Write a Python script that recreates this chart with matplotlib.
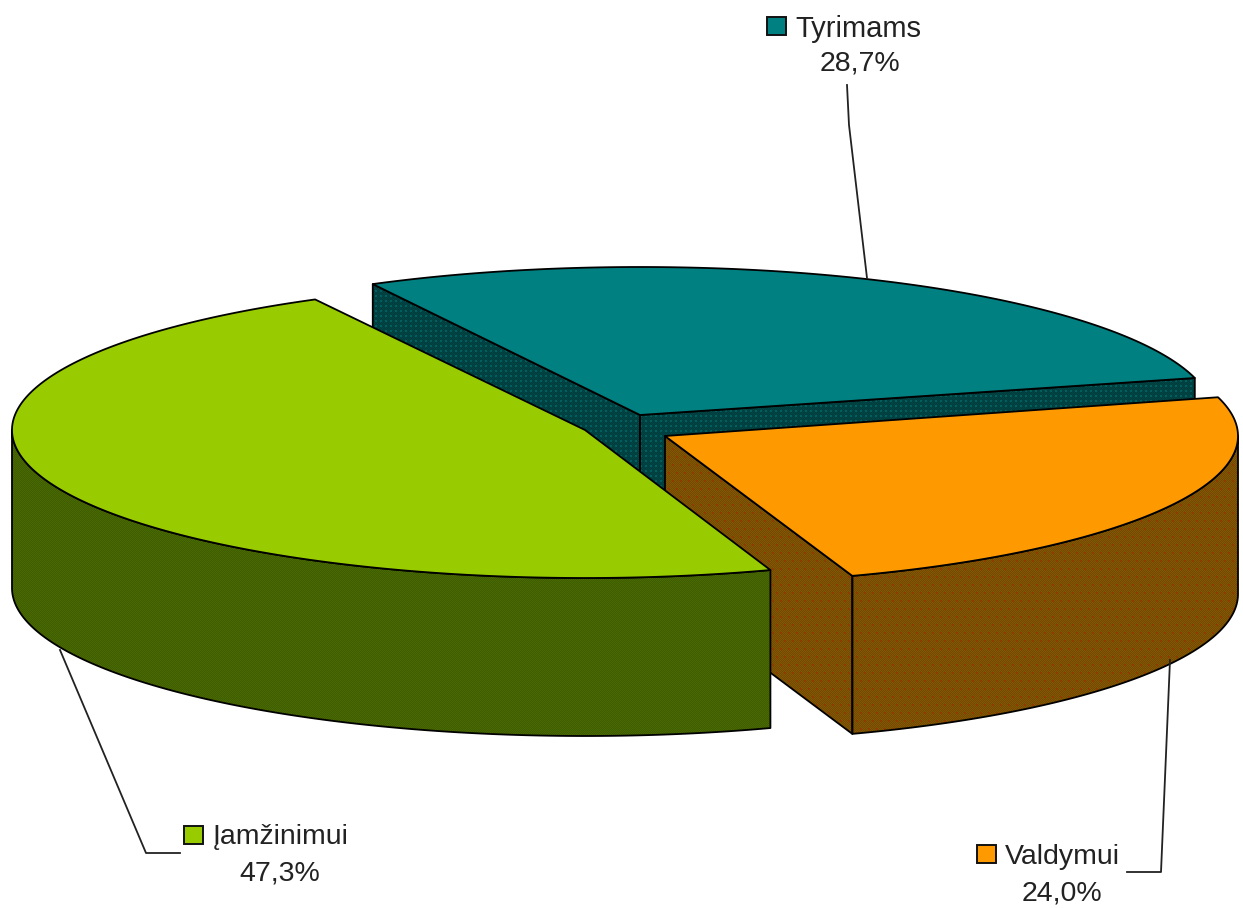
import numpy as np
import matplotlib
matplotlib.use("Agg")
import matplotlib.pyplot as plt
from matplotlib.colors import to_rgb
from matplotlib.patches import Polygon, Rectangle

labels = ["Tyrimams", "Valdymui", "Įamžinimui"]
shares = [28.7, 24.0, 47.3]
pct_labels = ["28,7%", "24,0%", "47,3%"]

top_colors = ["#008080", "#FF9900", "#99CC00"]
W, H = 1243, 908
A, B, DEPTH = 573, 148, 158
START = 117.8  # parametric angle where the first slice begins, going clockwise
centers = {"Tyrimams": (640, 415), "Valdymui": (665, 436), "Įamžinimui": (585, 430)}
# small corrections (degrees) of each slice's start and end for the view's perspective
view_fix = {"Tyrimams": (0, 0), "Valdymui": (0.7, 1.0), "Įamžinimui": (0.8, 0.3)}

plt.rcParams["font.family"] = ["Liberation Sans", "DejaVu Sans"]
fig = plt.figure(figsize=(W / 100, H / 100), dpi=100)
ax = fig.add_axes([0, 0, 1, 1])
ax.set_xlim(0, W)
ax.set_ylim(H, 0)
ax.axis("off")


def texture(base, alt, dot, period, stagger):
    """Dithered fill like the original palette rendering."""
    yy, xx = np.mgrid[0:H, 0:W]
    img = np.zeros((H, W, 3))
    img[:] = to_rgb(base)
    img[(xx + yy) % 2 == 0] = to_rgb(alt)
    if dot:
        shift = (yy // period) % 2 * (period // 2) if stagger else 0
        img[((xx + shift) % period < 2) & (yy % period < 2)] = to_rgb(dot)
    return img


textures = {
    "Tyrimams": texture("#003c3c", "#004646", "#006060", 5, False),
    "Valdymui": texture("#6f4a00", "#865600", "#8f3c00", 8, True),
    "Įamžinimui": texture("#3c5e00", "#4c6800", None, 5, False),
}


def pt(c, t):
    return c[0] + A * np.cos(np.radians(t)), c[1] - B * np.sin(np.radians(t))


def arc(c, t0, t1, n=200):
    ts = np.linspace(t0, t1, n)
    return np.column_stack([c[0] + A * np.cos(np.radians(ts)), c[1] - B * np.sin(np.radians(ts))])


def side(xy, name, z):
    poly = Polygon(xy, closed=True, fc="none", ec="black", lw=1.3, zorder=z + 0.1, joinstyle="round")
    ax.add_patch(poly)
    im = ax.imshow(textures[name], extent=(0, W, H, 0), zorder=z, interpolation="nearest", aspect="auto")
    im.set_clip_path(poly)


def extrude(p):
    return np.vstack([p, (p + np.array([0, DEPTH]))[::-1]])


# slice angle ranges from the shares
spans = [s / sum(shares) * 360 for s in shares]
ranges = {}
t = START
for name, sp in zip(labels, spans):
    ranges[name] = (t + view_fix[name][0], t - sp + view_fix[name][1])
    t -= sp

order = {"Tyrimams": 1, "Valdymui": 2, "Įamžinimui": 3}
for name, color in zip(labels, top_colors):
    c = centers[name]
    t0, t1 = ranges[name]
    z = order[name] * 10
    if name == "Tyrimams":
        # both cut faces look towards the viewer
        side(extrude(np.vstack([pt(c, t0), c])), name, z)
        side(extrude(np.vstack([c, pt(c, t1)])), name, z)
    elif name == "Valdymui":
        # left cut face and the front of the rim
        side(extrude(np.vstack([c, pt(c, t1)])), name, z)
        side(extrude(arc(c, t1, 0)), name, z)
    else:
        # front of the rim only: from the leftmost point to the slice's lower end
        side(extrude(arc(c, -180, t0)), name, z)
    top = np.vstack([[c], arc(c, t0, t1, 400)])
    ax.add_patch(Polygon(top, closed=True, fc=color, ec="black", lw=1.3, zorder=z + 1, joinstyle="round"))

# leader lines
leaders = {
    "Tyrimams": ([847, 849, 867], [85, 125, 278]),
    "Valdymui": ([1170, 1161, 1127], [660, 872, 872]),
    "Įamžinimui": ([60, 146, 180], [650, 853, 853]),
}
for name in labels:
    xs, ys = leaders[name]
    ax.plot(xs, ys, color="#222222", lw=1.3, zorder=40)

# labels: key box, name, percentage
label_pos = {
    "Tyrimams": (767, 17, 795, 29, 860, 64),
    "Valdymui": (977, 845, 1005, 857, 1062, 893),
    "Įamžinimui": (184, 826, 213, 837, 280, 873),
}
for name, pct, color in zip(labels, pct_labels, top_colors):
    kx, ky, tx, ty, px, py = label_pos[name]
    ax.add_patch(Rectangle((kx, ky), 19, 18, fc=color, ec="#111111", lw=1.4, zorder=41))
    ax.text(tx, ty, name, fontsize=21 if name == "Tyrimams" else 20.5, va="center", ha="left", color="#222222", zorder=41)
    ax.text(px, py, pct, fontsize=20.5, va="center", ha="center", color="#222222", zorder=41)

fig.savefig("out.png", dpi=100, facecolor="white")
